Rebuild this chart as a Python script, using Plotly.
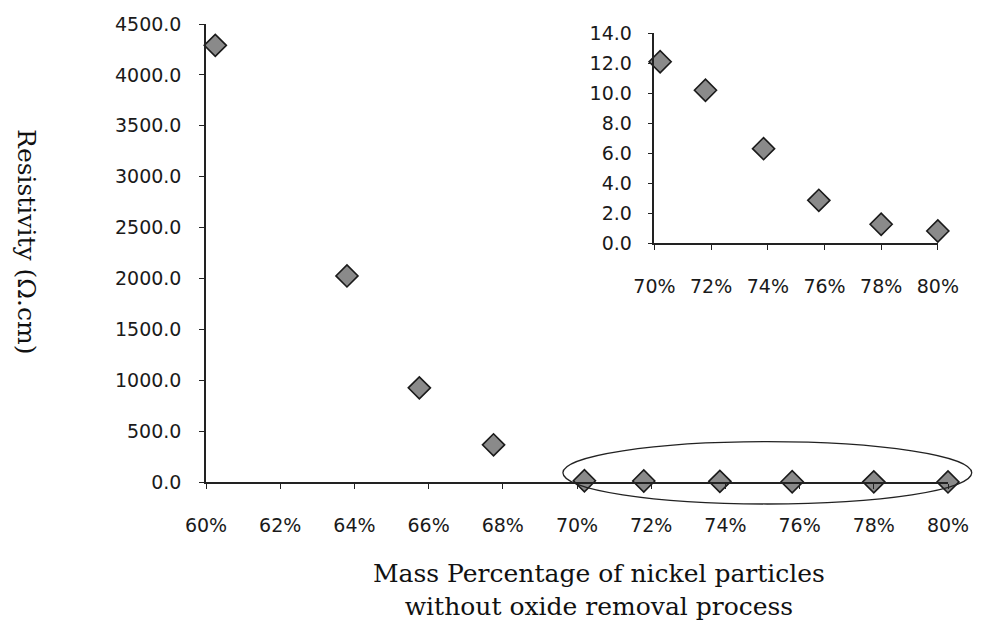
import plotly.graph_objects as go

# Data
mass_pct = [60.25, 63.8, 65.75, 67.75, 70.2, 71.8, 73.85, 75.8, 78.0, 80.0]
resistivity = [4290.0, 2025.0, 925.0, 365.0, 12.1, 10.2, 6.3, 2.85, 1.25, 0.8]
inset_pct = mass_pct[4:]
inset_res = resistivity[4:]

x_title = "Mass Percentage of nickel particles<br>without oxide removal process"
y_title = "Resistivity (\u03a9.cm)"

tick_font = dict(family="DejaVu Sans", size=19, color="#1a1a1a")
title_font = dict(family="DejaVu Serif", size=25, color="#111111")
marker = dict(symbol="diamond", size=17, color="#8a8a8a",
              line=dict(color="#1a1a1a", width=1.6))

fig = go.Figure()
fig.add_trace(go.Scatter(x=mass_pct, y=resistivity, mode="markers",
                         marker=marker, showlegend=False, cliponaxis=False))
fig.add_trace(go.Scatter(x=inset_pct, y=inset_res, mode="markers",
                         marker=marker, showlegend=False, cliponaxis=False,
                         xaxis="x2", yaxis="y2"))

axis_common = dict(showgrid=False, zeroline=False, showline=True,
                   linecolor="#222222", linewidth=1.5, ticks="outside",
                   ticklen=5, tickwidth=1.2, tickcolor="#222222",
                   tickfont=tick_font)

fig.update_layout(
    width=981, height=626, autosize=False,
    margin=dict(l=206, r=25, t=24, b=144),
    plot_bgcolor="white", paper_bgcolor="white",
    xaxis=dict(range=[60, 80], dtick=2, tick0=60, ticksuffix="%",
               ticklabelstandoff=20, **axis_common),
    yaxis=dict(range=[0, 4500], dtick=500, tickformat=".1f",
               ticklabelstandoff=14, **axis_common),
    xaxis2=dict(domain=[0.6044, 0.9863], anchor="y2", range=[70, 80],
                dtick=2, tick0=70, ticksuffix="%", ticklabelstandoff=20,
                **axis_common),
    yaxis2=dict(domain=[0.5218, 0.9797], anchor="x2", range=[0, 14],
                dtick=2, tickformat=".1f", ticklabelstandoff=12,
                **axis_common),
    annotations=[
        dict(text=x_title, xref="paper", yref="paper", x=0.529, y=-0.236,
             showarrow=False, font=title_font, align="center",
             xanchor="center", yanchor="middle"),
        dict(text=y_title, xref="paper", yref="paper", x=-0.2413, y=0.524,
             showarrow=False, font=title_font, textangle=90,
             xanchor="center", yanchor="middle"),
    ],
    shapes=[
        dict(type="circle", xref="paper", yref="paper",
             x0=0.481, x1=1.032, y0=-0.048, y1=0.088,
             line=dict(color="#222222", width=1.3)),
    ],
)

fig.write_html("out.html")
